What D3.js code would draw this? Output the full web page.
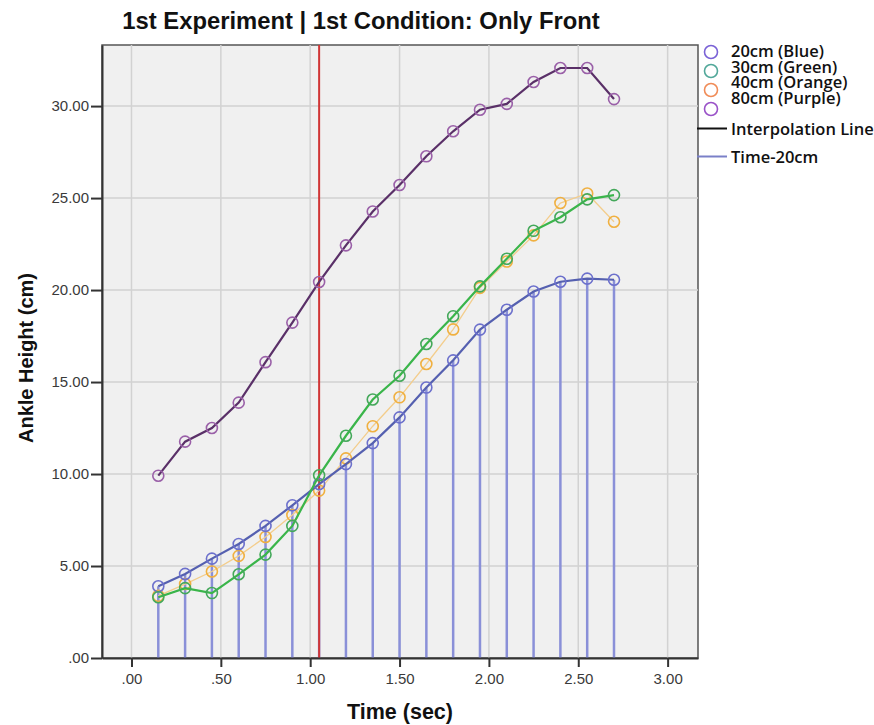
<!DOCTYPE html>
<html>
<head>
<meta charset="utf-8">
<script src="https://cdnjs.cloudflare.com/ajax/libs/d3/7.8.5/d3.min.js"></script>
<style>
  body { margin: 0; background: #fff; }
  .tick text { font-family: "Liberation Sans", Arial, sans-serif; font-size: 15px; fill: #3a3a3a; }
  .axis path, .axis line { stroke: #333; stroke-width: 2; }
  .grid line { stroke: #d2d2d2; stroke-width: 1.5; }
  .legendText { font-family: "Open Sans", sans-serif; font-size: 16.5px; font-weight: 600; fill: #111; }
</style>
</head>
<body>
<div id="chart"></div>
<script>
// time stamps (sec) shared by all four series
var times = [0.15, 0.30, 0.45, 0.60, 0.75, 0.90, 1.05, 1.20, 1.35, 1.50, 1.65, 1.80, 1.95, 2.10, 2.25, 2.40, 2.55, 2.70];

// ankle height (cm) per obstacle height
var blue20 = [3.90, 4.57, 5.40, 6.20, 7.18, 8.30, 9.45, 10.54, 11.68, 13.08, 14.70, 16.18, 17.85, 18.93, 19.92, 20.45, 20.62, 20.56];
var green30 = [3.30, 3.80, 3.53, 4.55, 5.62, 7.18, 9.93, 12.08, 14.05, 15.34, 17.07, 18.58, 20.20, 21.70, 23.22, 23.96, 24.93, 25.16];
var orange40 = [3.38, 4.02, 4.70, 5.55, 6.58, 7.77, 9.10, 10.85, 12.60, 14.17, 15.98, 17.86, 20.12, 21.55, 22.97, 24.73, 25.25, 23.71];
var purple80 = [9.91, 11.76, 12.50, 13.88, 16.08, 18.23, 20.44, 22.43, 24.27, 25.71, 27.27, 28.63, 29.80, 30.12, 31.31, 32.07, 32.07, 30.38];

// reference line (sec)
var markTime = 1.05;

var xTicks = [0, 0.5, 1, 1.5, 2, 2.5, 3];
var yTicks = [0, 5, 10, 15, 20, 25, 30];

var legendLabels = ["20cm (Blue)", "30cm (Green)", "40cm (Orange)", "80cm (Purple)"];
var legendLines = ["Interpolation Line", "Time-20cm"];

var svgWidth = 874;
var svgHeight = 725;

var margin = {
  top: 45,
  right: 176,
  bottom: 67,
  left: 102
};

var width = svgWidth - margin.left - margin.right;
var height = svgHeight - margin.top - margin.bottom;

var svg = d3.select("#chart")
  .append("svg")
  .attr("width", svgWidth)
  .attr("height", svgHeight);

var chartGroup = svg.append("g")
  .attr("transform", `translate(${margin.left}, ${margin.top})`);

var xScale = d3.scaleLinear()
  .domain([-0.165, 3.17])
  .range([0, width]);

var yScale = d3.scaleLinear()
  .domain([0, 33.32])
  .range([height, 0]);

// label format: ".00", ".50", "1.00" ...
var fmt = function(d) { return d3.format(".2f")(d).replace(/^0\./, "."); };

// plot background + frame
chartGroup.append("rect")
  .attr("width", width)
  .attr("height", height)
  .attr("fill", "#f0f0f0")
  .attr("stroke", "#555")
  .attr("stroke-width", 1.5);

// gridlines
chartGroup.append("g")
  .attr("class", "grid")
  .selectAll("line.v")
  .data(xTicks)
  .enter()
  .append("line")
  .attr("x1", d => xScale(d))
  .attr("x2", d => xScale(d))
  .attr("y1", 0)
  .attr("y2", height);

chartGroup.append("g")
  .attr("class", "grid")
  .selectAll("line.h")
  .data(yTicks.slice(1))
  .enter()
  .append("line")
  .attr("x1", 0)
  .attr("x2", width)
  .attr("y1", d => yScale(d))
  .attr("y2", d => yScale(d));

// stems down from the 20cm points
chartGroup.append("g")
  .selectAll("line")
  .data(times)
  .enter()
  .append("line")
  .attr("x1", d => xScale(d))
  .attr("x2", d => xScale(d))
  .attr("y1", (d, i) => yScale(blue20[i]))
  .attr("y2", height)
  .attr("stroke", "#8a90d8")
  .attr("stroke-width", 2.5);

// vertical marker at 1.05 sec
chartGroup.append("line")
  .attr("x1", xScale(markTime))
  .attr("x2", xScale(markTime))
  .attr("y1", 0)
  .attr("y2", height)
  .attr("stroke", "#d03535")
  .attr("stroke-width", 2);

var series = [
  { values: orange40, line: "#f3cd8c", lineWidth: 1.3, marker: "#f0b040" },
  { values: blue20, line: "#5560b0", lineWidth: 2.2, marker: "#6c70cc" },
  { values: green30, line: "#3ab54a", lineWidth: 2.2, marker: "#44a85a" },
  { values: purple80, line: "#5a3068", lineWidth: 2.2, marker: "#9a60a8" }
];

var lineGen = d3.line()
  .x(d => xScale(d[0]))
  .y(d => yScale(d[1]));

series.forEach(function(s) {
  var pts = times.map((t, i) => [t, s.values[i]]);

  chartGroup.append("path")
    .datum(pts)
    .attr("d", lineGen)
    .attr("fill", "none")
    .attr("stroke", s.line)
    .attr("stroke-width", s.lineWidth);

  chartGroup.append("g")
    .selectAll("circle")
    .data(pts)
    .enter()
    .append("circle")
    .attr("cx", d => xScale(d[0]))
    .attr("cy", d => yScale(d[1]))
    .attr("r", 5.5)
    .attr("fill", "none")
    .attr("stroke", s.marker)
    .attr("stroke-width", 1.6);
});

// axes
var bottomAxis = d3.axisBottom(xScale)
  .tickValues(xTicks)
  .tickSizeInner(9)
  .tickSizeOuter(0)
  .tickPadding(6)
  .tickFormat(fmt);

var leftAxis = d3.axisLeft(yScale)
  .tickValues(yTicks)
  .tickSizeInner(11)
  .tickSizeOuter(0)
  .tickPadding(2)
  .tickFormat(fmt);

chartGroup.append("g")
  .attr("class", "axis")
  .attr("transform", `translate(0, ${height})`)
  .call(bottomAxis);

chartGroup.append("g")
  .attr("class", "axis")
  .call(leftAxis);

// titles
svg.append("text")
  .attr("x", 361)
  .attr("y", 29)
  .attr("text-anchor", "middle")
  .attr("font-family", "Liberation Sans, Arial, sans-serif")
  .attr("font-weight", "bold")
  .attr("font-size", "23.8px")
  .attr("fill", "#111")
  .text("1st Experiment | 1st Condition: Only Front");

svg.append("text")
  .attr("x", 400)
  .attr("y", 719)
  .attr("text-anchor", "middle")
  .attr("font-family", "Liberation Sans, Arial, sans-serif")
  .attr("font-weight", "bold")
  .attr("font-size", "21.5px")
  .attr("fill", "#111")
  .text("Time (sec)");

svg.append("text")
  .attr("transform", "rotate(-90)")
  .attr("x", -358)
  .attr("y", 33)
  .attr("text-anchor", "middle")
  .attr("font-family", "Liberation Sans, Arial, sans-serif")
  .attr("font-weight", "bold")
  .attr("font-size", "20px")
  .attr("fill", "#111")
  .text("Ankle Height (cm)");

// legend
var legendColors = ["#7a62d6", "#52a89a", "#f08c58", "#9a52c8"];
var legend = svg.append("g");

legend.selectAll("circle")
  .data(legendColors)
  .enter()
  .append("circle")
  .attr("cx", 711)
  .attr("cy", (d, i) => 52 + i * 19)
  .attr("r", 6.5)
  .attr("fill", "none")
  .attr("stroke", d => d)
  .attr("stroke-width", 1.6);

legend.selectAll("text.series")
  .data(legendLabels)
  .enter()
  .append("text")
  .attr("class", "legendText")
  .attr("x", 731)
  .attr("y", (d, i) => 57 + i * 15.5)
  .text(d => d);

var lineColors = ["#111", "#7a80c8"];
legendLines.forEach(function(label, i) {
  var ly = 128.5 + i * 28;
  legend.append("line")
    .attr("x1", 697)
    .attr("x2", 727)
    .attr("y1", ly)
    .attr("y2", ly)
    .attr("stroke", lineColors[i])
    .attr("stroke-width", 2);
  legend.append("text")
    .attr("class", "legendText")
    .attr("x", 731)
    .attr("y", ly + 6)
    .text(label);
});
</script>
</body>
</html>
